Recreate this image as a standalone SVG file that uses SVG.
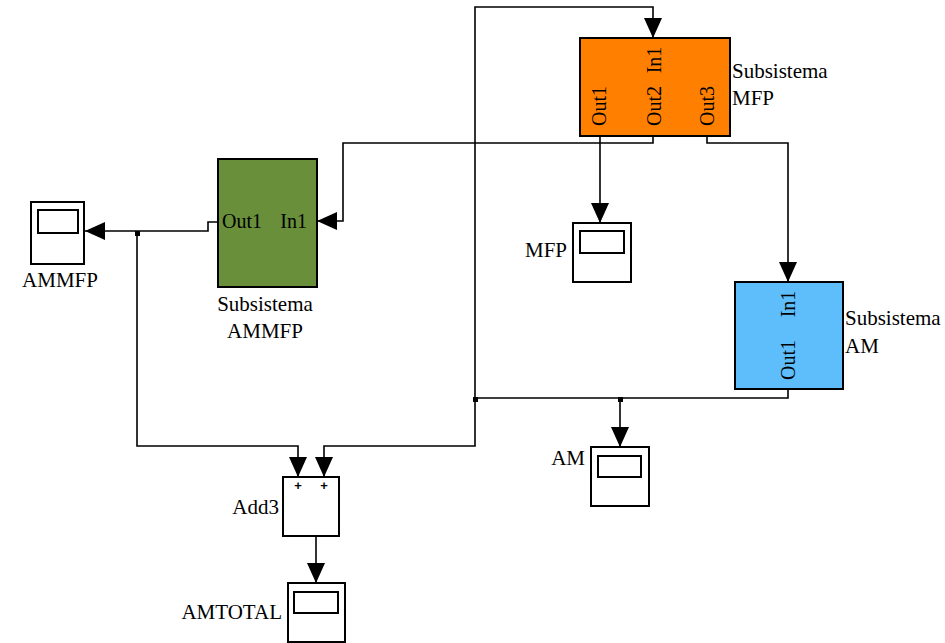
<svg xmlns="http://www.w3.org/2000/svg" width="945" height="643" viewBox="0 0 945 643">
<style>
.bg{fill:#fff}
.blk{stroke:#000;stroke-width:2}
.scope{fill:#fff;stroke:#000;stroke-width:2}
.w{fill:none;stroke:#000;stroke-width:1.6}
.t{font-family:"Liberation Serif","Times New Roman",serif;font-size:21px;fill:#000}
.p{font-family:"Liberation Serif","Times New Roman",serif;font-size:20px;fill:#000}
.pl{font-family:"Liberation Sans",Arial,sans-serif;font-size:13px;font-weight:bold;fill:#000}
.dot{fill:#000}
</style>
<defs>
<marker id="ah" markerUnits="userSpaceOnUse" markerWidth="20" markerHeight="18" refX="20" refY="9" orient="auto">
<path d="M0,0 L20,9 L0,18 z" fill="#000"/>
</marker>
</defs>
<rect class="bg" width="945" height="643"/>

<g id="connectors">
<path class="w" d="M788,389 V398 H475 V7 H653 V38" marker-end="url(#ah)"/>
<path class="w" d="M475,398 V446 H324 V477" marker-end="url(#ah)"/>
<path class="w" d="M620,398 V447" marker-end="url(#ah)"/>
<path class="w" d="M600,136 V223" marker-end="url(#ah)"/>
<path class="w" d="M653,136 V143 H343 V221 H317" marker-end="url(#ah)"/>
<path class="w" d="M707,136 V143 H788 V282" marker-end="url(#ah)"/>
<path class="w" d="M218,222 H208 V231 H85" marker-end="url(#ah)"/>
<path class="w" d="M137,231 V446 H298 V477" marker-end="url(#ah)"/>
<path class="w" d="M316,536 V583" marker-end="url(#ah)"/>
<rect class="dot" x="135" y="231" width="5" height="5"/>
<rect class="dot" x="473" y="397" width="5" height="5"/>
<rect class="dot" x="618" y="397" width="5" height="5"/>
</g>

<g id="subsistema-mfp">
<rect class="blk" x="580" y="38" width="150" height="98" fill="#FF8000"/>
<text class="p" text-anchor="middle" transform="translate(661,60) rotate(-90)">In1</text>
<text class="p" text-anchor="middle" transform="translate(606,106) rotate(-90)">Out1</text>
<text class="p" text-anchor="middle" transform="translate(661,106) rotate(-90)">Out2</text>
<text class="p" text-anchor="middle" transform="translate(714,106) rotate(-90)">Out3</text>
<text class="t" x="732" y="78">Subsistema</text>
<text class="t" x="732" y="105">MFP</text>
</g>

<g id="subsistema-ammfp">
<rect class="blk" x="218" y="159" width="99" height="128" fill="#6A8F3B"/>
<text class="p" x="222" y="228">Out1</text>
<text class="p" x="307" y="228" text-anchor="end">In1</text>
<text class="t" x="265" y="311" text-anchor="middle">Subsistema</text>
<text class="t" x="265" y="338" text-anchor="middle">AMMFP</text>
</g>

<g id="subsistema-am">
<rect class="blk" x="735" y="282" width="108" height="107" fill="#5EBDFB"/>
<text class="p" text-anchor="middle" transform="translate(795,304) rotate(-90)">In1</text>
<text class="p" text-anchor="middle" transform="translate(795,360) rotate(-90)">Out1</text>
<text class="t" x="845" y="325">Subsistema</text>
<text class="t" x="845" y="353">AM</text>
</g>

<g id="scope-ammfp">
<rect class="scope" x="31" y="202" width="53" height="62"/>
<rect class="scope" x="38" y="210" width="40" height="23"/>
<text class="t" x="60" y="287" text-anchor="middle">AMMFP</text>
</g>

<g id="scope-mfp">
<rect class="scope" x="573" y="223" width="58" height="59"/>
<rect class="scope" x="580" y="231" width="44" height="22"/>
<text class="t" x="567" y="257" text-anchor="end">MFP</text>
</g>

<g id="scope-am">
<rect class="scope" x="591" y="447" width="58" height="59"/>
<rect class="scope" x="598" y="456" width="43" height="21"/>
<text class="t" x="585" y="465" text-anchor="end">AM</text>
</g>

<g id="add3">
<rect class="scope" x="283" y="477" width="56" height="59"/>
<text class="pl" x="298" y="490" text-anchor="middle">+</text>
<text class="pl" x="324" y="490" text-anchor="middle">+</text>
<text class="t" x="279" y="514" text-anchor="end">Add3</text>
</g>

<g id="scope-amtotal">
<rect class="scope" x="288" y="583" width="57" height="59"/>
<rect class="scope" x="294" y="592" width="44" height="21"/>
<text class="t" x="282" y="619" text-anchor="end">AMTOTAL</text>
</g>
</svg>
